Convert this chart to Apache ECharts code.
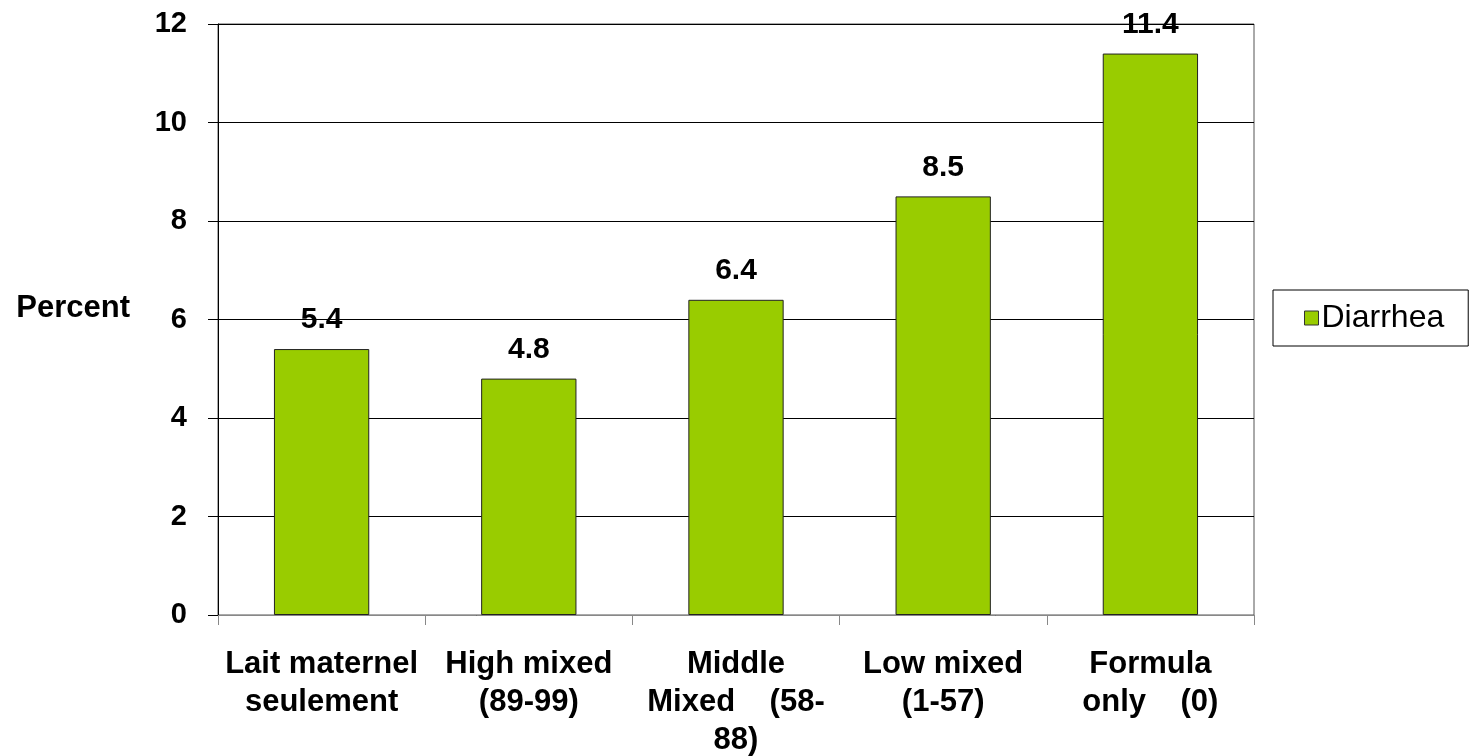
<!DOCTYPE html>
<html>
<head>
<meta charset="utf-8">
<script src="https://cdn.jsdelivr.net/npm/echarts@6/dist/echarts.min.js"></script>
<style>
  html, body { margin: 0; padding: 0; background: #fff; }
  #main { width: 1475px; height: 756px; }
</style>
</head>
<body>
<div id="main"></div>
<script>
// categories as printed under the bars (line breaks as in the picture)
var categories = [
  "Lait maternel\nseulement",
  "High mixed\n(89-99)",
  "Middle\nMixed    (58-\n88)",
  "Low mixed\n(1-57)",
  "Formula\nonly    (0)"
];
var diarrhea = [5.4, 4.8, 6.4, 8.5, 11.4];
var yTicks = [0, 2, 4, 6, 8, 10, 12];

var font = "'Liberation Sans', Arial, sans-serif";

var chart = echarts.init(document.getElementById("main"));

chart.setOption({
  animation: false,
  backgroundColor: "#fff",
  textStyle: { fontFamily: font },
  grid: {
    left: 218,
    top: 24,
    right: 221,
    bottom: 141,
    containLabel: false,
    outerBoundsMode: "none",
    show: true,
    borderColor: "#555",
    borderWidth: 1
  },
  legend: {
    data: ["Diarrhea"],
    orient: "vertical",
    left: 1273,
    top: 290,
    padding: [12, 24, 12, 31],
    icon: "rect",
    itemWidth: 14,
    itemHeight: 14,
    itemGap: 0,
    borderColor: "#000",
    borderWidth: 1,
    itemStyle: { borderColor: "#333", borderWidth: 1 },
    textStyle: { fontFamily: font, fontSize: 32, color: "#000", padding: [0, 0, 0, -2] }
  },
  xAxis: {
    type: "category",
    data: categories,
    axisLine: { show: true, lineStyle: { color: "#888", width: 1 } },
    axisTick: { show: true, alignWithLabel: false, length: 10, lineStyle: { color: "#888" } },
    axisLabel: {
      interval: 0,
      margin: 30,
      fontFamily: font,
      fontSize: 31,
      fontWeight: "bold",
      color: "#000",
      lineHeight: 38
    },
    splitLine: { show: false }
  },
  yAxis: {
    type: "value",
    min: yTicks[0],
    max: yTicks[yTicks.length - 1],
    interval: 2,
    name: "Percent",
    nameLocation: "middle",
    nameRotate: 0,
    nameGap: 88,
    nameTextStyle: {
      fontFamily: font, fontSize: 31, fontWeight: "bold", color: "#000",
      verticalAlign: "bottom",
      lineHeight: 22
    },
    axisLine: { show: true, lineStyle: { color: "#000", width: 1 } },
    axisTick: { show: true, inside: false, length: 10, lineStyle: { color: "#000" } },
    axisLabel: {
      margin: 31,
      fontFamily: font,
      fontSize: 29,
      fontWeight: "bold",
      color: "#000"
    },
    splitLine: { show: true, lineStyle: { color: "#000", width: 1 } }
  },
  series: [
    {
      name: "Diarrhea",
      type: "bar",
      data: diarrhea,
      barWidth: "46%",
      itemStyle: { color: "#99CC00", borderColor: "#222", borderWidth: 1 },
      label: {
        show: true,
        position: "top",
        distance: 14,
        fontFamily: font,
        fontSize: 30,
        fontWeight: "bold",
        color: "#000"
      }
    }
  ]
});
</script>
</body>
</html>
